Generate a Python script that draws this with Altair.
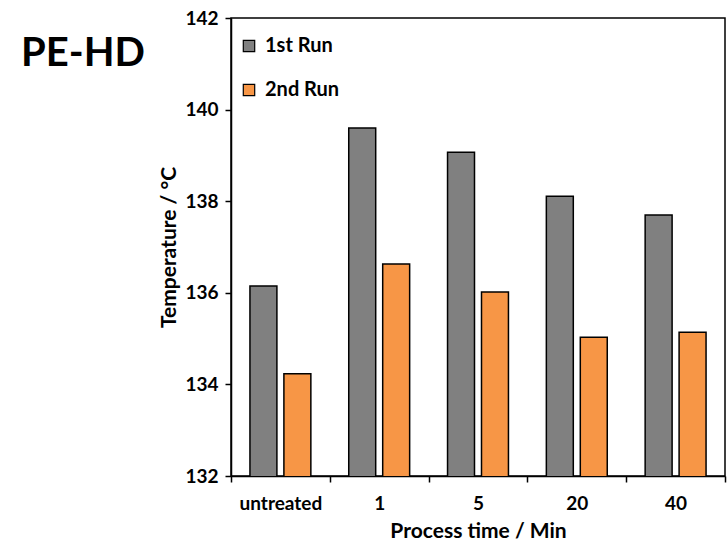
import altair as alt
import pandas as pd

categories = ["untreated", "1", "5", "20", "40"]
run1 = [136.15, 139.60, 139.07, 138.11, 137.70]
run2 = [134.23, 136.63, 136.02, 135.03, 135.14]
series = ["1st Run", "2nd Run"]
colors = ["#808080", "#F79646"]

rows = []
for c, a, b in zip(categories, run1, run2):
    rows.append({"time": c, "run": series[0], "temp": a})
    rows.append({"time": c, "run": series[1], "temp": b})
df = pd.DataFrame(rows)

FONT = "Lato"

chart = alt.Chart(df, title=alt.TitleParams(
    "PE-HD", anchor="start", frame="group", fontSize=40, font=FONT, fontWeight="bold",
    color="black", dx=-210, dy=101, baseline="alphabetic"
)).mark_bar(stroke="black", strokeWidth=1.5, clip=True).encode(
    x=alt.X("time:N", sort=categories,
            scale=alt.Scale(paddingInner=0, paddingOuter=0),
            axis=alt.Axis(title="Process time / Min", labelAngle=0, tickBand="extent",
                          tickSize=6, labelPadding=12, titlePadding=7)),
    xOffset=alt.XOffset("run:N", sort=series,
                        scale=alt.Scale(paddingInner=0.206, paddingOuter=0.558)),
    y=alt.Y("temp:Q", scale=alt.Scale(domain=[132, 142], zero=False, nice=False),
            axis=alt.Axis(title="Temperature / °C", values=[132, 134, 136, 138, 140, 142],
                          tickSize=6, labelPadding=7, titlePadding=5, grid=False)),
    color=alt.Color("run:N", sort=series,
                    scale=alt.Scale(domain=series, range=colors),
                    legend=alt.Legend(title=None, orient="none", legendX=8, legendY=18,
                                      symbolType="square", symbolSize=130,
                                      symbolStrokeColor="black", symbolStrokeWidth=1.2,
                                      labelFontSize=20, labelFont=FONT, labelFontWeight="bold",
                                      labelColor="black", rowPadding=24, labelOffset=6,
                                      symbolOpacity=1)),
).properties(
    width=494, height=458,
    autosize=alt.AutoSizeParams(type="none"),
    padding={"left": 231, "top": 18, "right": 3, "bottom": 65},
).configure_view(
    stroke="black", strokeWidth=1.5
).configure_axis(
    domainColor="black", domainWidth=1.5, tickColor="black", tickWidth=1.5,
    labelFont=FONT, labelFontSize=19, labelFontWeight="bold", labelColor="black",
    titleFont=FONT, titleFontSize=21, titleFontWeight="bold", titleColor="black",
    grid=False
)

chart.save("out.html", embed_options={"renderer": "svg", "actions": False})
